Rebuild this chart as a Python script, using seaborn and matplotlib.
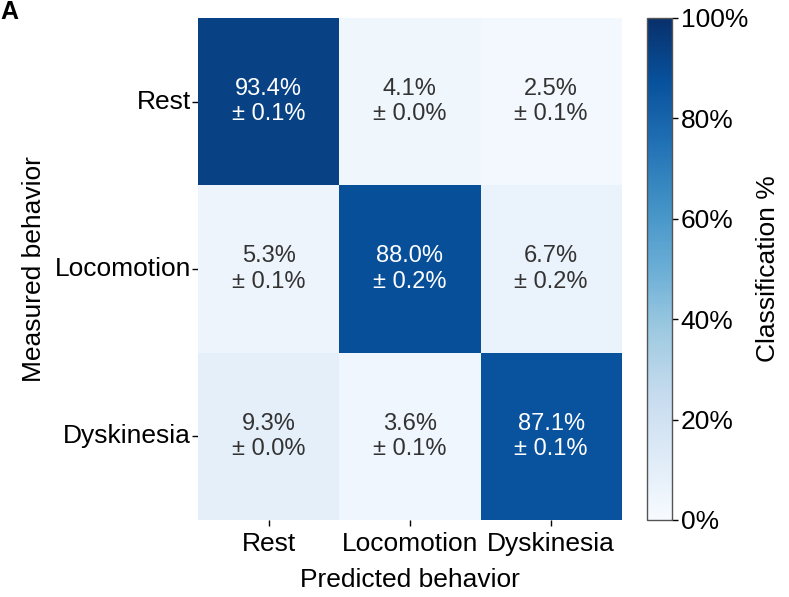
import numpy as np
import pandas as pd
import matplotlib
matplotlib.use("Agg")
import matplotlib.pyplot as plt
import seaborn as sns
from matplotlib.ticker import PercentFormatter

sns.set_style("white")
plt.rcParams["font.family"] = ["Liberation Sans", "DejaVu Sans"]
plt.rcParams["text.color"] = "black"
plt.rcParams["axes.labelcolor"] = "black"
plt.rcParams["xtick.color"] = "black"
plt.rcParams["ytick.color"] = "black"

behaviors = ["Rest", "Locomotion", "Dyskinesia"]
# rows: measured behavior, columns: predicted behavior (mean %)
mean_rest = [93.4, 4.1, 2.5]
mean_locomotion = [5.3, 88.0, 6.7]
mean_dyskinesia = [9.3, 3.6, 87.1]
# standard error of each cell (%)
err_rest = [0.1, 0.0, 0.1]
err_locomotion = [0.1, 0.2, 0.2]
err_dyskinesia = [0.0, 0.1, 0.1]

means = pd.DataFrame([mean_rest, mean_locomotion, mean_dyskinesia],
                     index=behaviors, columns=behaviors)
errs = np.array([err_rest, err_locomotion, err_dyskinesia])
labels = np.array([[f"{m:.1f}%\n± {e:.1f}%" for m, e in zip(mrow, erow)]
                   for mrow, erow in zip(means.values, errs)])

fig = plt.figure(figsize=(7.89, 5.97), dpi=100)
ax = fig.add_axes([0.251, 0.129, 0.537, 0.841])
cax = fig.add_axes([0.820, 0.129, 0.032, 0.841])

sns.heatmap(means, ax=ax, cbar_ax=cax, cmap="Blues", vmin=0, vmax=100,
            annot=labels, fmt="", annot_kws={"fontsize": 17, "linespacing": 1.2},
            cbar_kws={"format": PercentFormatter(decimals=0)})

for t in ax.texts:
    if t.get_color() not in ("w", "white", "#ffffff"):
        t.set_color("#333333")

ax.set_xlabel("Predicted behavior", fontsize=19, labelpad=8)
ax.set_ylabel("Measured behavior", fontsize=19, labelpad=6)
ax.tick_params(axis="both", labelsize=19, length=4, width=1,
               left=True, bottom=True, pad=1)
ax.tick_params(axis="x", rotation=0, pad=5)
ax.tick_params(axis="y", rotation=0)

cbar = ax.collections[0].colorbar
cbar.set_ticks([0, 20, 40, 60, 80, 100])
cbar.ax.tick_params(labelsize=19, length=4, width=1, right=True, pad=2)
cbar.set_label("Classification %", fontsize=19, labelpad=6)
cbar.outline.set_edgecolor("#555555")
cbar.outline.set_linewidth(1)

fig.text(0.0, 1.0, "A", fontsize=18, fontweight="bold", va="top", ha="left")

fig.savefig("out.png", dpi=100)
